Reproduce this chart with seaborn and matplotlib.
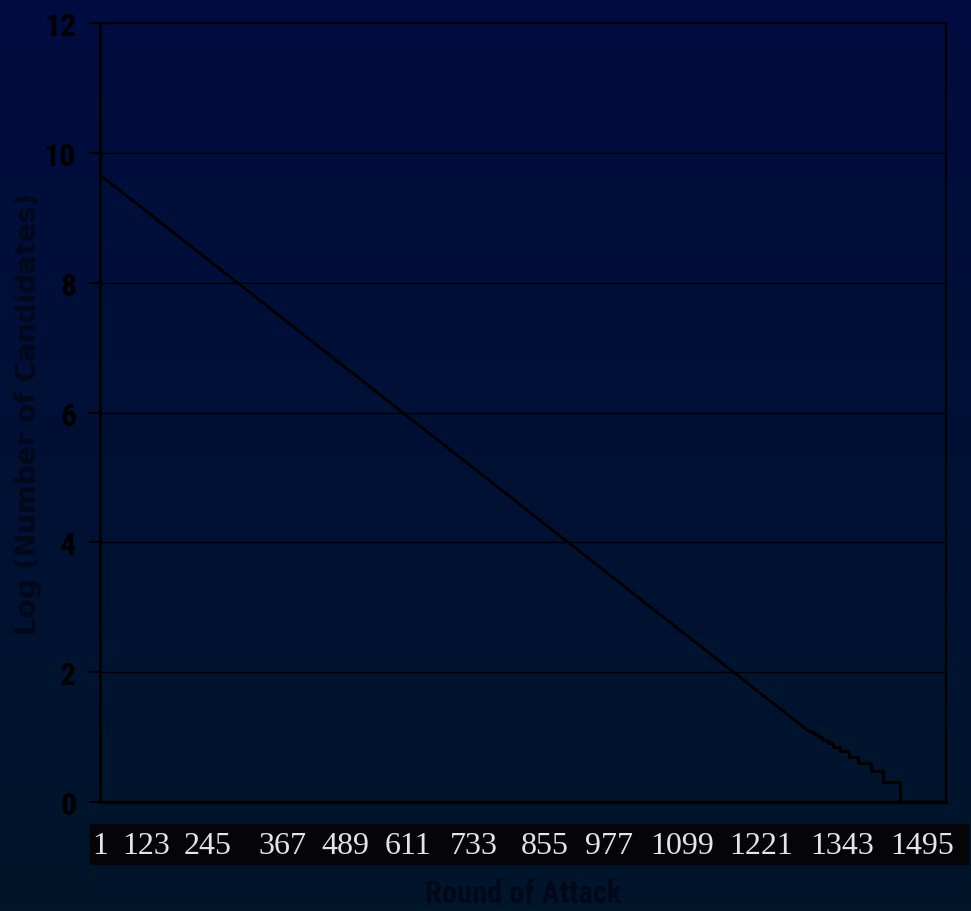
import numpy as np
import pandas as pd
import matplotlib
matplotlib.use("Agg")
import matplotlib.pyplot as plt
from matplotlib import font_manager
from matplotlib.patches import Rectangle
import seaborn as sns

# straight part of the curve (round, log10 of candidates)
line_rounds = [1, 1270]
line_logs = [9.66, 1.114]

# tail: round where the count of candidates drops to a new value
step_rounds = [1270, 1276, 1283, 1290, 1297, 1308, 1317, 1330, 1346, 1362, 1385, 1407, 1437]
step_counts = [13, 12, 11, 10, 9, 8, 7, 6, 5, 4, 3, 2, 1]
last_round = 1520

x_labels = ["1", "123", "245", "367", "489", "611", "733", "855", "977", "1099", "1221", "1343", "1495"]
x_label_pos = [1, 84, 195, 328, 441, 554, 672, 800, 915, 1046, 1188, 1333, 1477]
y_ticks = [0, 2, 4, 6, 8, 10, 12]

sns.set_theme(style="white")

# narrow bold sans if there is one
names = {f.name for f in font_manager.fontManager.ttflist}
narrow = [n for n in ["Liberation Sans Narrow", "DejaVu Sans Condensed", "Roboto Condensed"] if n in names]
bold_font = narrow[:1] + ["Liberation Sans", "DejaVu Sans"]
stretch = "normal" if narrow else "condensed"
wide_font = ["DejaVu Sans"]
serif_font = ["Liberation Serif", "DejaVu Serif"]

fig = plt.figure(figsize=(9.71, 9.12), dpi=100)

# gradient background
bg = fig.add_axes([0, 0, 1, 1], zorder=-5)
top = np.array([0, 12, 64]) / 255
bot = np.array([0, 22, 42]) / 255
t = np.linspace(0, 1, 256)[:, None]
grad = (top * (1 - t) + bot * t)[:, None, :]
bg.imshow(np.repeat(grad, 4, axis=1), aspect="auto", extent=[0, 1, 0, 1])
bg.set_axis_off()

# black band behind the x tick labels
fig.patches.append(Rectangle((90 / 971, 1 - 865 / 912), 878 / 971, 40 / 912,
                             transform=fig.transFigure, color="#050508", zorder=-1))

ax = fig.add_axes([100 / 971, 1 - 803 / 912, 846 / 971, 779 / 912])
ax.set_facecolor("none")

lin = pd.DataFrame({"round": line_rounds, "log": line_logs})
sns.lineplot(data=lin, x="round", y="log", color="black", linewidth=2, ax=ax)

tail = pd.DataFrame({"round": step_rounds + [last_round],
                     "log": list(np.log10(step_counts)) + [0.0]})
sns.lineplot(data=tail, x="round", y="log", color="black", linewidth=2.2,
             drawstyle="steps-post", estimator=None, ax=ax)

ax.set_xlim(1, last_round)
ax.set_ylim(0, 12)
ax.set_yticks(y_ticks)
ax.set_yticklabels([str(v) for v in y_ticks], family=bold_font, fontweight="bold",
                   fontstretch=stretch, fontsize=23, color="black")
ax.set_xticks(x_label_pos)
ax.set_xticklabels(x_labels, family=serif_font, fontsize=23, color="#e4e4e4")
ax.tick_params(axis="x", length=0, pad=21)
ax.tick_params(axis="y", length=8, width=1.5, color="black", pad=9, left=True)
ax.grid(axis="y", color="black", linewidth=1)
ax.grid(axis="x", visible=False)
for s in ax.spines.values():
    s.set_visible(True)
    s.set_color("black")
    s.set_linewidth(1.5)
ax.spines["left"].set_linewidth(2)
ax.spines["bottom"].set_linewidth(2.5)

ax.set_xlabel("Round of Attack", family=bold_font, fontweight="bold", fontstretch=stretch,
              fontsize=22, color="#01081a")
ax.set_ylabel("Log (Number of Candidates)", family=wide_font, fontweight="bold",
              fontsize=20, color="#01081a")
ax.xaxis.set_label_coords(0.5, -0.098)
ax.yaxis.set_label_coords(-0.0686, 0.5)

fig.savefig("out.png", dpi=100)
